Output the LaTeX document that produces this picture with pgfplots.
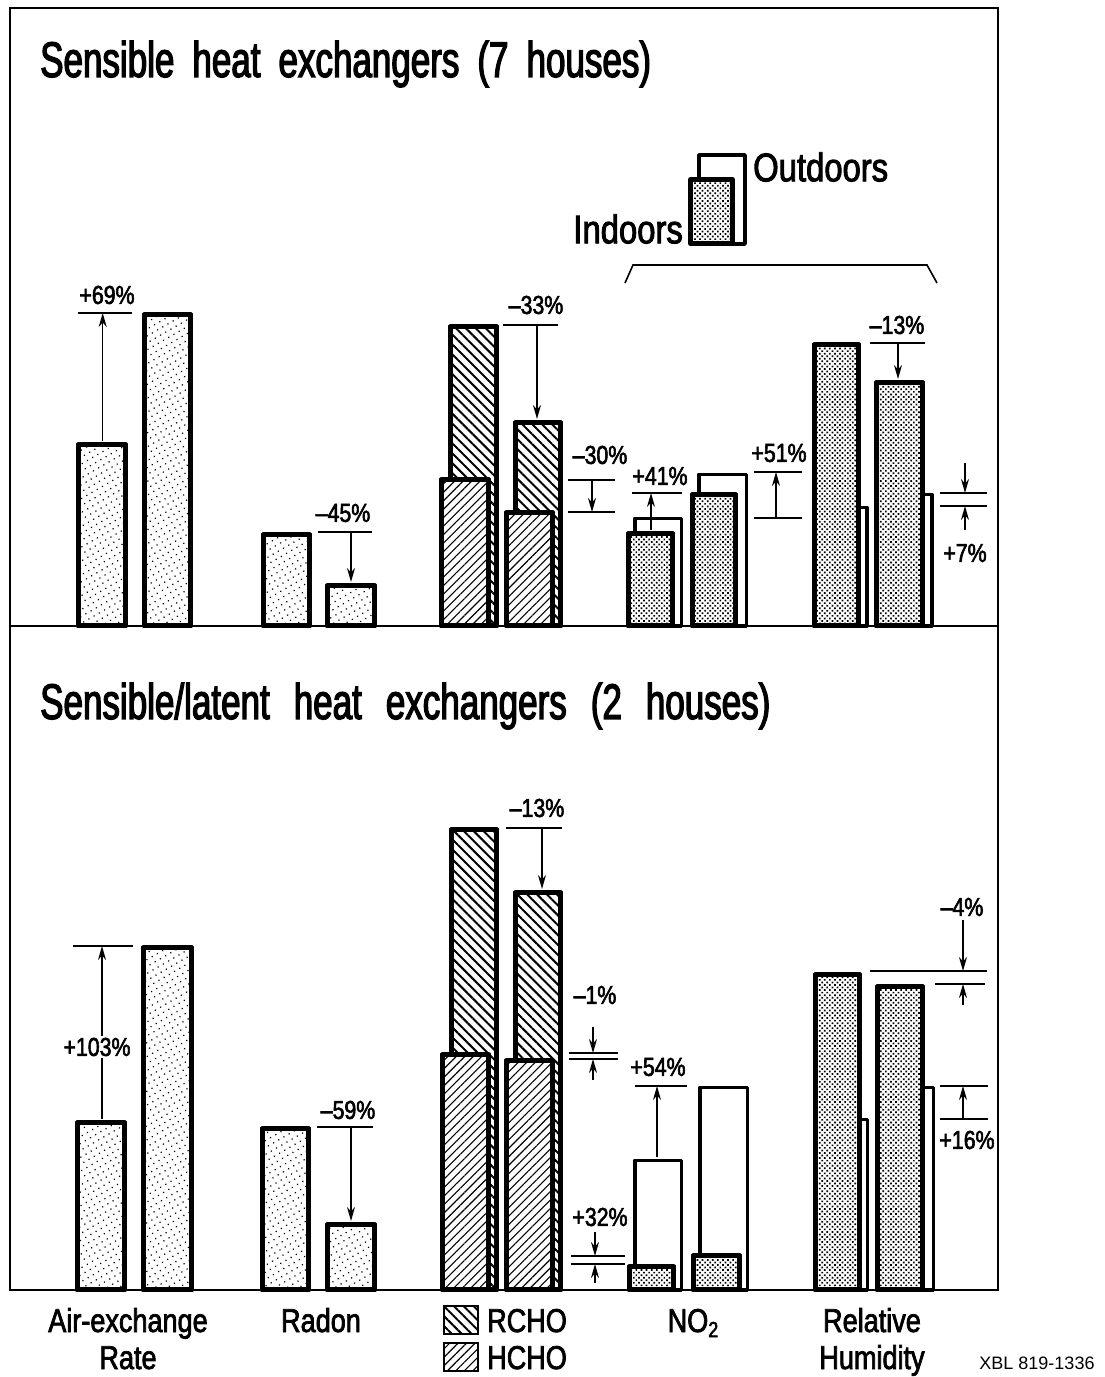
\documentclass[border=0pt]{standalone}
\usepackage{pgfplots}
\pgfplotsset{compat=1.18}
\usetikzlibrary{patterns,patterns.meta,arrows.meta}
\usepackage{fontspec}
\setmainfont{Liberation Sans}
\newfontfamily\tf{Liberation Sans}[FakeStretch=0.70,FakeBold=2.5]
\newfontfamily\lf{Liberation Sans}[FakeStretch=0.82,FakeBold=2.2]
\newcommand\pct{\lf\fontsize{26}{26}\selectfont}
\newcommand\lab{\lf\fontsize{33}{33}\selectfont}
\newcommand\gap{\hspace{18pt}}
\newcommand\gapb{\hspace{24pt}}

\tikzset{
  stip/.style={fill=white, postaction={pattern={Dots[distance=6pt,radius=0.85pt,angle=30]}}},
  xdot/.style={fill=white, postaction={pattern={Dots[distance=3.6pt,radius=1.2pt,angle=45]}}},
  rcho/.style={fill=white, postaction={pattern={Lines[angle=-45,distance=7pt,line width=2pt]}}},
  hcho/.style={fill=white, postaction={pattern={Lines[angle=45,distance=6pt,line width=1.1pt]}}},
}
\pgfplotsset{
  panel/.style={width=1104pt, scale only axis, xmin=0, xmax=1104,
    axis lines=none, ticks=none, clip=false},
  bx/.style={ybar, bar shift=0pt, draw=black, line width=5pt, line join=round},
  bo/.style={ybar, bar shift=0pt, draw=black, line width=3.5pt, fill=white, line join=round},
  ann/.style={black, line width=1.5pt},
  arr/.style={black, line width=1.5pt, -{Stealth[length=14pt,width=8pt]}},
}

\begin{document}
\begin{tikzpicture}[x=1pt,y=1pt]
\path[use as bounding box] (0,0) rectangle (1104,1377);

% ---------------- Top panel: sensible heat exchangers ----------------
\begin{axis}[panel, at={(0,751)}, anchor=south west, height=626pt, ymin=0, ymax=626]
% frame
\draw[line width=2.5pt] (10,0) -- (10,618) -- (998,618) -- (998,0);
\draw[line width=2.5pt] (10,0) -- (998,0);
\node[anchor=base west, inner sep=0, font=\tf\fontsize{50}{50}\selectfont] at (40,549)
  {Sensible\gap heat\gap exchangers\gap (7\gap houses)};

% Air-exchange rate
\addplot[bx, stip, bar width=47] coordinates {(102,181)};
\addplot[bx, stip, bar width=46] coordinates {(167.5,311)};
% Radon
\addplot[bx, stip, bar width=46] coordinates {(286.5,91)};
\addplot[bx, stip, bar width=47] coordinates {(351,40)};
% RCHO (behind) and HCHO (front)
\addplot[bx, rcho, bar width=46] coordinates {(473.5,299)};
\addplot[bx, rcho, bar width=45] coordinates {(538,203)};
\addplot[bx, hcho, bar width=47] coordinates {(465,146)};
\addplot[bx, hcho, bar width=46] coordinates {(529.5,113)};
% NO2 outdoors (behind) and indoors
\addplot[bo, bar width=46.5] coordinates {(658,107.5)};
\addplot[bo, bar width=47.5] coordinates {(722.5,151.5)};
\addplot[bx, xdot, bar width=44] coordinates {(650.5,92)};
\addplot[bx, xdot, bar width=43] coordinates {(714,131)};
% Relative humidity outdoors (behind) and indoors
\addplot[bo, bar width=47.5] coordinates {(843,118.5)};
\addplot[bo, bar width=47.5] coordinates {(908,131.5)};
\addplot[bx, xdot, bar width=44] coordinates {(836.5,281)};
\addplot[bx, xdot, bar width=46] coordinates {(899.5,243)};

% annotations
\addplot[ann] coordinates {(78,313) (132,313)};
\addplot[arr] coordinates {(102.7,185) (102.7,313)};
\node[font=\pct] at (107,331) {+69\%};

\addplot[ann] coordinates {(318,94) (372,94)};
\addplot[arr] coordinates {(351,94) (351,44)};
\node[font=\pct] at (343,113) {–45\%};

\addplot[ann] coordinates {(503,301) (558,301)};
\addplot[arr] coordinates {(537,301) (537,207)};
\node[font=\pct] at (536,321) {–33\%};

\addplot[ann] coordinates {(568,146) (615,146)};
\addplot[ann] coordinates {(568,114) (615,114)};
\addplot[arr] coordinates {(592,146) (592,114)};
\node[font=\pct] at (600,171) {–30\%};

\addplot[ann] coordinates {(632,133) (682,133)};
\addplot[arr] coordinates {(651,96) (651,133)};
\node[font=\pct] at (660,150) {+41\%};

\addplot[ann] coordinates {(754,154) (802,154)};
\addplot[ann] coordinates {(754,108) (802,108)};
\addplot[arr] coordinates {(776,108) (776,154)};
\node[font=\pct] at (779,173) {+51\%};

\addplot[ann] coordinates {(870,283) (925,283)};
\addplot[arr] coordinates {(898,283) (898,247)};
\node[font=\pct] at (897,301) {–13\%};

\addplot[ann] coordinates {(940,133) (987,133)};
\addplot[ann] coordinates {(940,120) (987,120)};
\addplot[arr] coordinates {(965,163) (965,133)};
\addplot[arr] coordinates {(965,96) (965,120)};
\node[font=\pct] at (965,73) {+7\%};

% legend
\draw[line width=3.5pt, fill=white, line join=round] (699,382) rectangle (745,471);
\draw[line width=5pt, xdot, line join=round] (690.5,382.5) rectangle (732.5,446.5);
\node[anchor=west, inner sep=0, font=\lf\fontsize{40}{40}\selectfont] at (753,459) {Outdoors};
\node[anchor=east, inner sep=0, font=\lf\fontsize{40}{40}\selectfont] at (683,397) {Indoors};
\draw[line width=1.6pt] (625,343) -- (633,361) -- (927,361) -- (937,343);
\end{axis}

% ---------------- Bottom panel: sensible/latent heat exchangers ----------------
\begin{axis}[panel, at={(0,0)}, anchor=south west, height=751pt, ymin=-87, ymax=664]
\draw[line width=2.5pt] (10,664) -- (10,0) -- (998,0) -- (998,664);
\node[anchor=base west, inner sep=0, font=\tf\fontsize{50}{50}\selectfont] at (40,571)
  {Sensible/latent\gapb heat\gapb exchangers\gapb (2\gapb houses)};

\addplot[bx, stip, bar width=47] coordinates {(101,167)};
\addplot[bx, stip, bar width=48] coordinates {(167.5,342)};
\addplot[bx, stip, bar width=46] coordinates {(285.5,161)};
\addplot[bx, stip, bar width=47] coordinates {(351,65)};
\addplot[bx, rcho, bar width=45] coordinates {(474,460)};
\addplot[bx, rcho, bar width=45] coordinates {(538,397)};
\addplot[bx, hcho, bar width=46] coordinates {(465.5,235)};
\addplot[bx, hcho, bar width=46] coordinates {(529.5,229)};
\addplot[bo, bar width=46.5] coordinates {(658,129.5)};
\addplot[bo, bar width=47.5] coordinates {(723.5,202.5)};
\addplot[bx, xdot, bar width=44] coordinates {(651.5,23)};
\addplot[bx, xdot, bar width=46] coordinates {(716.5,34)};
\addplot[bo, bar width=46.5] coordinates {(844,170.5)};
\addplot[bo, bar width=46.5] coordinates {(910,202.5)};
\addplot[bx, xdot, bar width=44] coordinates {(837.5,315)};
\addplot[bx, xdot, bar width=45] coordinates {(900,303)};

\addplot[ann] coordinates {(73,344) (133,344)};
\addplot[arr] coordinates {(102,171) (102,344)};
\node[font=\pct, fill=white, inner sep=2pt] at (97,243) {+103\%};

\addplot[ann] coordinates {(317,163) (373,163)};
\addplot[arr] coordinates {(351,163) (351,69)};
\node[font=\pct] at (348,180) {–59\%};

\addplot[ann] coordinates {(506,462) (562,462)};
\addplot[arr] coordinates {(542,462) (542,401)};
\node[font=\pct] at (537,482) {–13\%};

\addplot[ann] coordinates {(569,237) (618,237)};
\addplot[ann] coordinates {(569,231) (618,231)};
\addplot[arr] coordinates {(593,263) (593,237)};
\addplot[arr] coordinates {(593,210) (593,231)};
\node[font=\pct] at (595,295) {–1\%};

\addplot[ann] coordinates {(571,34) (625,34)};
\addplot[ann] coordinates {(571,26) (625,26)};
\addplot[arr] coordinates {(595,58) (595,34)};
\addplot[arr] coordinates {(595,7) (595,26)};
\node[font=\pct] at (600,73) {+32\%};

\addplot[ann] coordinates {(635,204) (687,204)};
\addplot[arr] coordinates {(657,133) (657,204)};
\node[font=\pct] at (658,223) {+54\%};

\addplot[ann] coordinates {(870,319) (987,319)};
\addplot[ann] coordinates {(935,306) (985,306)};
\addplot[arr] coordinates {(963,370) (963,319)};
\addplot[arr] coordinates {(963,285) (963,306)};
\node[font=\pct] at (962,383) {–4\%};

\addplot[ann] coordinates {(940,204) (988,204)};
\addplot[ann] coordinates {(940,171) (988,171)};
\addplot[arr] coordinates {(963,171) (963,204)};
\node[font=\pct] at (967,150) {+16\%};

% category labels
\node[anchor=base, font=\lab] at (128,-42) {Air-exchange};
\node[anchor=base, font=\lab] at (128,-79) {Rate};
\node[anchor=base, font=\lab] at (321,-42) {Radon};
\draw[line width=2.2pt, rcho] (444,-16) rectangle (478,-44);
\draw[line width=2.2pt, hcho] (444,-53) rectangle (478,-81);
\node[anchor=base west, inner sep=0, font=\lab] at (487,-42) {RCHO};
\node[anchor=base west, inner sep=0, font=\lab] at (487,-79) {HCHO};
\node[anchor=base, font=\lab] at (693,-42) {NO\raisebox{-0.3ex}{\lf\fontsize{22}{22}\selectfont 2}};
\node[anchor=base, font=\lab] at (872,-42) {Relative};
\node[anchor=base, font=\lab] at (872,-79) {Humidity};
\node[anchor=base, font=\fontsize{18}{18}\selectfont] at (1037,-80) {XBL 819-1336};
\end{axis}
\end{tikzpicture}
\end{document}
